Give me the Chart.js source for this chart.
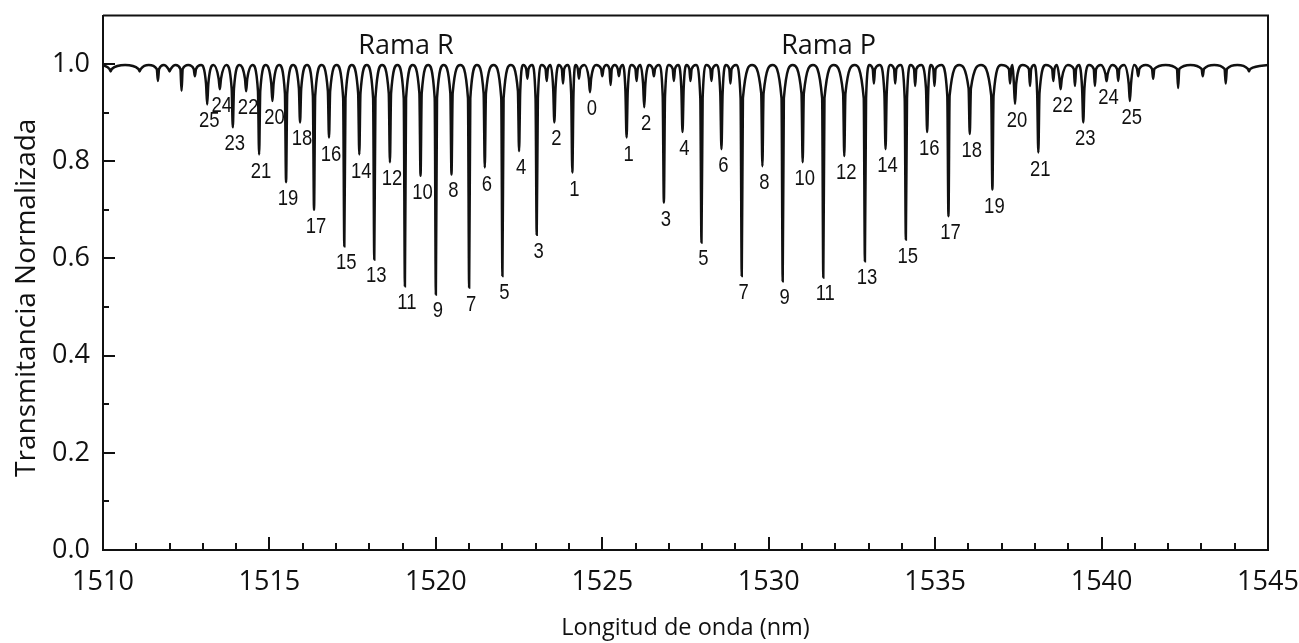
<!DOCTYPE html>
<html>
<head>
<meta charset="utf-8">
<title>Transmitancia normalizada</title>
<script src="https://cdn.jsdelivr.net/npm/chart.js@4.4.1/dist/chart.umd.min.js"></script>
<style>
  html, body { margin: 0; padding: 0; background: #fff; }
  #wrap { width: 1299px; height: 643px; }
</style>
</head>
<body>
<div id="wrap"><canvas id="spectrum"></canvas></div>
<script>
// Rama R: J labels, line centres (nm), minimum transmittance, shoulder level
const rJ = [25, 24, 23, 22, 21, 20, 19, 18, 17, 16, 15, 14, 13, 12, 11, 10, 9, 8, 7, 6, 5, 4, 3, 2, 1, 0];
const rCenters = [1513.13, 1513.51, 1513.90, 1514.30, 1514.69, 1515.09, 1515.50, 1515.92, 1516.34, 1516.79,
                  1517.25, 1517.70, 1518.15, 1518.62, 1519.07, 1519.54, 1520.00, 1520.47, 1521.00, 1521.47,
                  1522.00, 1522.50, 1523.03, 1523.56, 1524.10, 1524.63];
const rMins = [0.917, 0.948, 0.870, 0.944, 0.814, 0.924, 0.757, 0.880, 0.700, 0.849,
               0.625, 0.814, 0.598, 0.798, 0.543, 0.770, 0.526, 0.773, 0.540, 0.787,
               0.564, 0.821, 0.649, 0.880, 0.777, 0.942];
const rShoulders = [0.96, 0.97, 0.95, 0.97, 0.945, 0.96, 0.94, 0.95, 0.935, 0.945,
                    0.93, 0.94, 0.93, 0.94, 0.93, 0.94, 0.93, 0.94, 0.93, 0.94,
                    0.93, 0.945, 0.93, 0.95, 0.94, 0.97];

// Rama P
const pJ = [1, 2, 3, 4, 5, 6, 7, 8, 9, 10, 11, 12, 13, 14, 15, 16, 17, 18, 19, 20, 21, 22, 23, 24, 25];
const pCenters = [1525.73, 1526.26, 1526.85, 1527.41, 1527.98, 1528.58, 1529.19, 1529.81, 1530.42, 1531.02,
                  1531.64, 1532.27, 1532.89, 1533.51, 1534.12, 1534.76, 1535.40, 1536.04, 1536.72, 1537.40,
                  1538.10, 1538.77, 1539.45, 1540.15, 1540.85];
const pMins = [0.849, 0.911, 0.715, 0.860, 0.633, 0.825, 0.564, 0.790, 0.553, 0.798,
               0.561, 0.811, 0.594, 0.825, 0.639, 0.860, 0.687, 0.856, 0.742, 0.918,
               0.818, 0.948, 0.880, 0.965, 0.924];
const pShoulders = [0.945, 0.96, 0.935, 0.95, 0.93, 0.94, 0.93, 0.94, 0.93, 0.94,
                    0.93, 0.94, 0.93, 0.94, 0.93, 0.95, 0.935, 0.95, 0.935, 0.96,
                    0.94, 0.97, 0.95, 0.98, 0.96];

// weak (unlabelled) absorption lines
const weakCenters = [1510.23, 1511.10, 1511.65, 1512.00, 1512.36, 1512.76, 1522.75, 1523.33, 1523.82, 1524.30,
                     1525.00, 1525.25, 1525.50, 1526.03, 1526.55, 1527.15, 1527.65, 1528.28, 1528.85, 1533.16,
                     1533.80, 1534.40, 1534.98, 1537.25, 1537.85, 1538.55, 1539.20, 1539.80, 1540.50, 1541.10,
                     1541.55, 1542.30, 1543.04, 1543.73, 1544.43];
const weakMins = [0.985, 0.985, 0.965, 0.985, 0.945, 0.975, 0.970, 0.965, 0.960, 0.970,
                  0.975, 0.957, 0.975, 0.965, 0.975, 0.965, 0.965, 0.965, 0.960, 0.960,
                  0.960, 0.955, 0.955, 0.960, 0.955, 0.965, 0.955, 0.955, 0.965, 0.975,
                  0.970, 0.951, 0.975, 0.960, 0.985];
const weakShoulder = 0.99;
const continuum = 0.998;

const xTicks = [1510, 1515, 1520, 1525, 1530, 1535, 1540, 1545];
const yTicks = [0.0, 0.2, 0.4, 0.6, 0.8, 1.0];

const branchTitles = [
  { text: 'Rama R', x: 1519.1, y: 1.02 },
  { text: 'Rama P', x: 1531.8, y: 1.02 }
];

// build the trace from the line list
const lines = [];
rCenters.forEach((c, i) => lines.push({ c: c, d: rMins[i], s: rShoulders[i] }));
pCenters.forEach((c, i) => lines.push({ c: c, d: pMins[i], s: pShoulders[i] }));
weakCenters.forEach((c, i) => lines.push({ c: c, d: weakMins[i], s: Math.max(weakShoulder, weakMins[i]) }));
lines.sort((a, b) => a.c - b.c);

const WING = 0.035;
const trace = [{ x: 1510, y: continuum }];
lines.forEach((l, i) => {
  if (i > 0) trace.push({ x: (lines[i - 1].c + l.c) / 2, y: continuum });
  trace.push({ x: l.c - WING, y: l.s });
  trace.push({ x: l.c, y: l.d });
  trace.push({ x: l.c + WING, y: l.s });
});
trace.push({ x: 1545, y: continuum });

const INK = '#111';

// inward tick marks, top/right frame and the rotated y title
const frameTicks = {
  id: 'frameTicks',
  afterDraw(chart) {
    const { ctx, chartArea: a, scales: { x, y } } = chart;
    ctx.save();
    ctx.strokeStyle = INK;
    ctx.lineWidth = 2;
    ctx.beginPath();
    ctx.moveTo(a.left, a.top);
    ctx.lineTo(a.right, a.top);
    ctx.lineTo(a.right, a.bottom);
    ctx.stroke();
    ctx.beginPath();
    for (let v = 1511; v < 1545; v++) {
      const px = Math.round(x.getPixelForValue(v));
      const len = v % 5 === 0 ? 13 : 7;
      ctx.moveTo(px, a.bottom);
      ctx.lineTo(px, a.bottom - len);
    }
    for (let k = 1; k <= 10; k++) {
      const py = Math.round(y.getPixelForValue(k / 10));
      const len = k % 2 === 0 ? 12 : 6;
      ctx.moveTo(a.left, py);
      ctx.lineTo(a.left + len, py);
    }
    ctx.stroke();

    ctx.fillStyle = INK;
    ctx.font = '28px "Open Sans", sans-serif';
    ctx.textAlign = 'center';
    ctx.textBaseline = 'middle';
    ctx.translate(27, (a.top + a.bottom) / 2 + 15);
    ctx.rotate(-Math.PI / 2);
    ctx.fillText('Transmitancia Normalizada', 0, 0);
    ctx.restore();
  }
};

// J numbers under each line, and branch titles
const lineLabels = {
  id: 'lineLabels',
  afterDatasetsDraw(chart) {
    const { ctx, scales: { x, y } } = chart;
    ctx.save();
    ctx.fillStyle = INK;
    ctx.textAlign = 'center';
    ctx.textBaseline = 'middle';
    ctx.font = '22px "Liberation Sans", Arial, sans-serif';
    const put = (j, c, d) => {
      ctx.save();
      ctx.translate(x.getPixelForValue(c) + 2, y.getPixelForValue(d) + 17);
      ctx.scale(0.84, 1);
      ctx.fillText(String(j), 0, 0);
      ctx.restore();
    };
    rJ.forEach((j, i) => put(j, rCenters[i], rMins[i]));
    pJ.forEach((j, i) => put(j, pCenters[i], pMins[i]));
    ctx.font = '27px "Open Sans", sans-serif';
    ctx.textBaseline = 'alphabetic';
    branchTitles.forEach(t => ctx.fillText(t.text, x.getPixelForValue(t.x), y.getPixelForValue(t.y)));
    ctx.restore();
  }
};

new Chart(document.getElementById('spectrum'), {
  type: 'line',
  data: {
    datasets: [{
      data: trace,
      borderColor: INK,
      borderWidth: 2.5,
      pointRadius: 0,
      fill: false,
      cubicInterpolationMode: 'monotone'
    }]
  },
  options: {
    responsive: true,
    maintainAspectRatio: false,
    animation: false,
    layout: { padding: 0 },
    plugins: { legend: { display: false }, tooltip: { enabled: false } },
    scales: {
      x: {
        type: 'linear', min: 1510, max: 1545,
        afterBuildTicks: s => { s.ticks = xTicks.map(v => ({ value: v })); },
        afterFit: s => { s.height = 93; s.paddingLeft = 0; s.paddingRight = 31; },
        grid: { display: false, drawTicks: false },
        border: { display: true, color: INK, width: 2 },
        ticks: { color: INK, padding: 16, maxRotation: 0, autoSkip: false,
                 font: { family: 'Open Sans', size: 27 }, callback: v => String(v) },
        title: { display: true, text: 'Longitud de onda (nm)', color: INK,
                 font: { family: 'Open Sans', size: 23.5 }, padding: { top: 0, bottom: 1 } }
      },
      y: {
        min: 0, max: 1.1,
        afterBuildTicks: s => { s.ticks = yTicks.map(v => ({ value: v })); },
        afterFit: s => { s.width = 103; s.paddingTop = 15.5; s.paddingBottom = 0; },
        grid: { display: false, drawTicks: false },
        border: { display: true, color: INK, width: 2 },
        ticks: { color: INK, padding: 13, font: { family: 'Open Sans', size: 27 },
                 callback: v => v.toFixed(1) },
        title: { display: false }
      }
    }
  },
  plugins: [frameTicks, lineLabels]
});
</script>
</body>
</html>
